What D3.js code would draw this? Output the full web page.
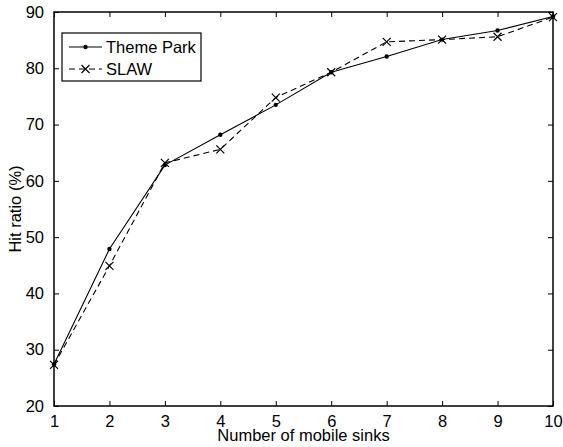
<!DOCTYPE html>
<html>
<head>
<meta charset="utf-8">
<script src="https://cdn.jsdelivr.net/npm/d3@7"></script>
<style>
body { margin: 0; background: #fff; }
text { font-family: "Liberation Sans", Arial, sans-serif; fill: #000; }
</style>
</head>
<body>
<script>
var sinks = [1, 2, 3, 4, 5, 6, 7, 8, 9, 10],
	themePark = [27.4, 47.9, 62.8, 68.2, 73.5, 79.3, 82.1, 85.1, 86.7, 89.2],
	slaw = [27.3, 44.9, 63.2, 65.6, 74.8, 79.3, 84.7, 85.1, 85.6, 89.1];

var yTicks = [20, 30, 40, 50, 60, 70, 80, 90];

var margin = {top: 12, right: 10, bottom: 41, left: 54},
	width = 563 - margin.left - margin.right,
	height = 447 - margin.top - margin.bottom;

var x = d3.scaleLinear()
	.domain([1, 10])
	.range([0, width]);

var y = d3.scaleLinear()
	.domain([20, 90])
	.range([height, 0]);

var svg = d3.select('body')
	.append('svg')
	.attr('width', 563)
	.attr('height', 447);

var main = svg.append('g')
	.attr('transform', 'translate(' + margin.left + ',' + margin.top + ')');

// axes, ticks pointing inward like matlab
var xAxis = d3.axisBottom(x).tickValues(sinks).tickSizeInner(-5).tickSizeOuter(0).tickPadding(9);
var yAxis = d3.axisLeft(y).tickValues(yTicks).tickSizeInner(-5).tickSizeOuter(0).tickPadding(10);

var gx = main.append('g')
	.attr('transform', 'translate(0,' + height + ')')
	.call(xAxis);
var gy = main.append('g').call(yAxis);

main.append('g')
	.call(d3.axisTop(x).tickValues(sinks).tickSizeInner(-5).tickSizeOuter(0).tickFormat(''));
main.append('g')
	.attr('transform', 'translate(' + width + ',0)')
	.call(d3.axisRight(y).tickValues(yTicks).tickSizeInner(-5).tickSizeOuter(0).tickFormat(''));

main.selectAll('.domain').remove();
main.selectAll('.tick line').attr('stroke', '#000').attr('stroke-width', 1);
main.selectAll('.tick text').attr('font-size', '16.5px').attr('fill', '#000');

main.append('rect')
	.attr('width', width)
	.attr('height', height)
	.attr('fill', 'none')
	.attr('stroke', '#000')
	.attr('stroke-width', 1.5);

// series lines
var line = function(vals) {
	return d3.line()
		.x(function(d, i) { return x(sinks[i]); })
		.y(function(d) { return y(d); })(vals);
};

main.append('path')
	.attr('d', line(themePark))
	.attr('fill', 'none')
	.attr('stroke', '#000')
	.attr('stroke-width', 1.1);

main.append('path')
	.attr('d', line(slaw))
	.attr('fill', 'none')
	.attr('stroke', '#000')
	.attr('stroke-width', 1.1)
	.attr('stroke-dasharray', '6,4');

main.selectAll('circle.tp')
	.data(themePark)
	.enter().append('circle')
	.attr('class', 'tp')
	.attr('cx', function(d, i) { return x(sinks[i]); })
	.attr('cy', function(d) { return y(d); })
	.attr('r', 2.2)
	.attr('fill', '#000');

var cross = function(cx, cy, s) {
	return 'M' + (cx - s) + ',' + (cy - s) + 'L' + (cx + s) + ',' + (cy + s) +
		'M' + (cx - s) + ',' + (cy + s) + 'L' + (cx + s) + ',' + (cy - s);
};

main.selectAll('path.sl')
	.data(slaw)
	.enter().append('path')
	.attr('class', 'sl')
	.attr('d', function(d, i) { return cross(x(sinks[i]), y(d), 4); })
	.attr('stroke', '#000')
	.attr('stroke-width', 1.2);

// labels
svg.append('text')
	.attr('x', margin.left + width / 2)
	.attr('y', 441)
	.attr('text-anchor', 'middle')
	.attr('font-size', '16.5px')
	.text('Number of mobile sinks');

svg.append('text')
	.attr('transform', 'translate(21,' + (margin.top + height / 2) + ') rotate(-90)')
	.attr('text-anchor', 'middle')
	.attr('font-size', '16.5px')
	.text('Hit ratio (%)');

// legend
var legend = svg.append('g').attr('transform', 'translate(62,33)');
legend.append('rect')
	.attr('width', 139)
	.attr('height', 48)
	.attr('fill', '#fff')
	.attr('stroke', '#000')
	.attr('stroke-width', 1.2);

legend.append('line')
	.attr('x1', 7).attr('x2', 40).attr('y1', 14).attr('y2', 14)
	.attr('stroke', '#000').attr('stroke-width', 1.1);
legend.append('circle')
	.attr('cx', 23.5).attr('cy', 14).attr('r', 2.2).attr('fill', '#000');
legend.append('text')
	.attr('x', 44).attr('y', 20)
	.attr('font-size', '16.5px')
	.text('Theme Park');

legend.append('line')
	.attr('x1', 7).attr('x2', 40).attr('y1', 36).attr('y2', 36)
	.attr('stroke', '#000').attr('stroke-width', 1.1)
	.attr('stroke-dasharray', '6,4');
legend.append('path')
	.attr('d', cross(23.5, 36, 4))
	.attr('stroke', '#000').attr('stroke-width', 1.2);
legend.append('text')
	.attr('x', 44).attr('y', 42)
	.attr('font-size', '16.5px')
	.text('SLAW');
</script>
</body>
</html>
